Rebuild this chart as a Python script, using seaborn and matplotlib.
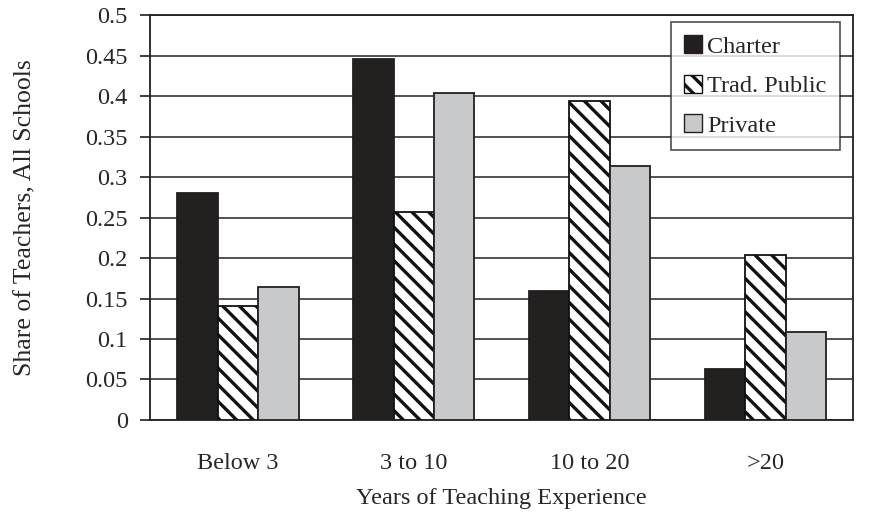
import pandas as pd
import matplotlib
matplotlib.use('Agg')
import matplotlib.pyplot as plt
import seaborn as sns
from matplotlib.patches import Patch

# data
categories = ['Below 3', '3 to 10', '10 to 20', '>20']
charter = [0.280, 0.446, 0.159, 0.063]
trad_public = [0.141, 0.257, 0.394, 0.204]
private = [0.164, 0.404, 0.314, 0.109]
series = ['Charter', 'Trad. Public', 'Private']
yticks = [0, 0.05, 0.1, 0.15, 0.2, 0.25, 0.3, 0.35, 0.4, 0.45, 0.5]
ytick_labels = ['0', '0.05', '0.1', '0.15', '0.2', '0.25', '0.3', '0.35', '0.4', '0.45', '0.5']

df = pd.DataFrame({
    'cat': categories * 3,
    'share': charter + trad_public + private,
    'school': [s for s in series for _ in categories],
})

sns.set_style('white')
plt.rcParams['font.family'] = ['Liberation Serif', 'DejaVu Serif']
plt.rcParams['hatch.linewidth'] = 2.4
fs = 17.5

fig = plt.figure(figsize=(8.77, 5.23), dpi=100)
ax = fig.add_axes([0.171, 0.197, 0.802, 0.774])

colors = {'Charter': '#231f20', 'Trad. Public': 'white', 'Private': '#c8c9cb'}
sns.barplot(data=df, x='cat', y='share', hue='school', order=categories,
            hue_order=series, palette=colors, width=0.69, gap=0,
            edgecolor='#231f20', linewidth=1.3, legend=False, ax=ax, zorder=3)

# hatch the traditional public bars
for bar in ax.containers[1]:
    bar.set_hatch('\\\\')
    bar.set_edgecolor('#111111')

ax.set_ylim(0, 0.5)
ax.set_xlim(-0.5, 3.5)
ax.set_yticks(yticks)
ax.set_yticklabels(ytick_labels)
ax.yaxis.grid(True, color='#333333', linewidth=1.2, zorder=0)
ax.set_axisbelow(True)

# ticks between categories on the x axis
ax.set_xticks([-0.5, 0.5, 1.5, 2.5, 3.5], minor=True)
ax.tick_params(axis='x', which='major', length=0, labelsize=fs, pad=24)
ax.tick_params(axis='x', which='minor', length=6, width=1.2, color='#231f20', direction='out')
ax.tick_params(axis='y', length=7, width=1.2, color='#231f20', direction='out',
               labelsize=fs, left=True, pad=9)

for sp in ax.spines.values():
    sp.set_color('#231f20')
    sp.set_linewidth(1.3)

ax.set_xlabel('Years of Teaching Experience', fontsize=fs, labelpad=10)
ax.set_ylabel('Share of Teachers, All Schools', fontsize=18.5, labelpad=35)

handles = [
    Patch(facecolor='#231f20', edgecolor='#231f20'),
    Patch(facecolor='white', edgecolor='#111111', hatch='\\\\'),
    Patch(facecolor='#c8c9cb', edgecolor='#231f20'),
]
leg = ax.legend(handles, series, loc='upper right', bbox_to_anchor=(0.981, 0.983),
                fontsize=fs, frameon=True, fancybox=False, handlelength=0.75,
                handleheight=0.75, handletextpad=0.2, labelspacing=0.7,
                borderpad=0.55, borderaxespad=0)
leg.get_frame().set_edgecolor('#231f20')
leg.get_frame().set_linewidth(1.2)
leg.set_zorder(5)

fig.savefig('out.png', dpi=100)
